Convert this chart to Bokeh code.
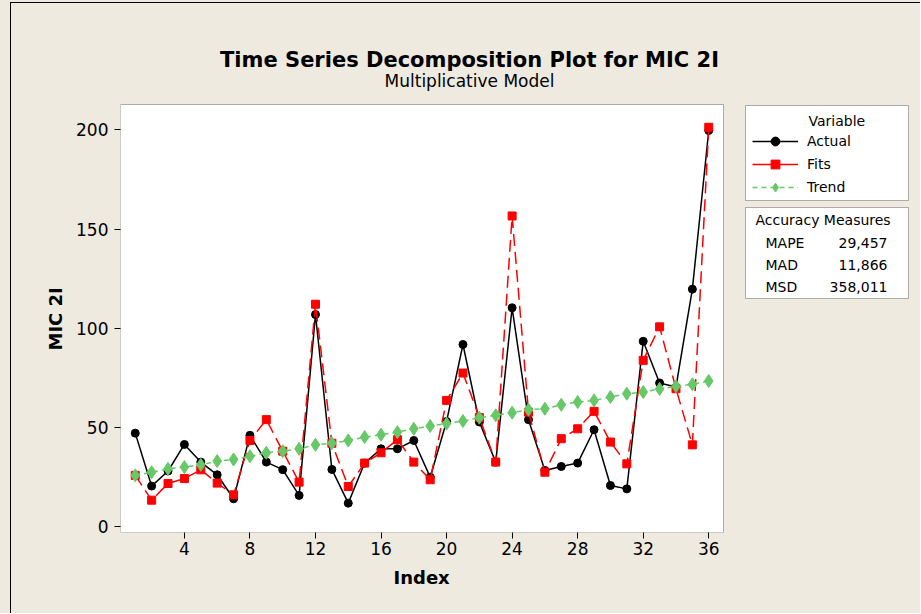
from bokeh.plotting import figure
from bokeh.layouts import column
from bokeh.models import (Range1d, FixedTicker, BoxAnnotation, Label, Legend,
                          LegendItem, ColumnDataSource, Title)
from bokeh.embed import file_html
from bokeh.resources import INLINE

# ---------------- data ----------------
index = list(range(1, 37))
actual = [47.1, 20.4, 28.0, 41.4, 32.5, 26.1, 14.0, 46.0, 32.5, 28.7, 15.7, 106.9,
          28.8, 11.8, 32.0, 39.2, 39.2, 43.4, 24.9, 53.0, 91.8, 52.7, 32.5, 110.3,
          53.9, 28.3, 30.3, 32.0, 48.8, 20.7, 19.0, 93.4, 72.4, 70.4, 119.7, 199.7]
fits = [25.8, 13.3, 21.7, 24.2, 28.6, 21.9, 16.0, 43.4, 53.9, 38.0, 22.4, 112.1,
        42.0, 20.2, 32.0, 37.2, 43.8, 32.5, 23.6, 63.6, 77.4, 55.0, 32.5, 156.6,
        57.7, 27.4, 44.3, 49.3, 58.1, 42.6, 31.6, 83.8, 100.7, 69.5, 41.2, 201.3]
trend = [25.8, 27.4, 29.1, 30.0, 31.1, 33.0, 33.8, 35.4, 37.2, 38.0, 39.2, 41.2,
         42.0, 43.4, 45.1, 46.3, 47.6, 49.3, 50.7, 51.9, 53.2, 54.9, 56.1, 57.4,
         58.9, 59.4, 61.4, 62.8, 63.6, 65.3, 67.0, 67.8, 69.4, 70.7, 71.7, 73.4]
x_ticks = [4, 8, 12, 16, 20, 24, 28, 32, 36]
y_ticks = [0, 50, 100, 150, 200]
series_names = ["Actual", "Fits", "Trend"]
measure_names = ["MAPE", "MAD", "MSD"]
measure_values = ["29,457", "11,866", "358,011"]
title_text = "Time Series Decomposition Plot for MIC 2I"
subtitle_text = "Multiplicative Model"
x_label = "Index"
y_label = "MIC 2I"

# data window of the plot box
X0, X1 = 0.1, 36.9
Y0, Y1 = -3.0, 212.8

# ---------------- geometry (page pixels) ----------------
BG = "#EEEAE0"
FONT = "DejaVu Sans"
GREEN = "#66C866"

PAD_L, PAD_T = 11, 3            # page offset of the canvas (border + padding)
CW, CH = 921 - PAD_L, 614 - PAD_T
BOX_L, BOX_R, BOX_T, BOX_B = 120, 723, 104, 532   # plot box in page px
FL = BOX_L - PAD_L              # frame left in canvas px
FB = BOX_B - PAD_T              # frame bottom in canvas px
frame_w = CW - FL
frame_h = FB
xs = (BOX_R - BOX_L) / (X1 - X0)
ys = (BOX_B - BOX_T) / (Y1 - Y0)

p = figure(width=CW, height=CH, output_backend="svg", toolbar_location=None,
           title=None,
           x_range=Range1d(X0, X0 + frame_w / xs),
           y_range=Range1d(Y0, Y0 + frame_h / ys),
           min_border_left=FL, min_border_right=0,
           min_border_top=0, min_border_bottom=CH - FB,
           background_fill_color=BG, border_fill_color=BG,
           outline_line_color=None)

p.grid.visible = False
for ax in (p.xaxis, p.yaxis):
    ax.minor_tick_line_color = None
    ax.major_tick_in = 0
    ax.major_tick_out = 6
    ax.major_tick_line_color = "black"
    ax.axis_line_color = None
    ax.major_label_text_font = FONT
    ax.major_label_text_font_size = "17px"
    ax.major_label_text_color = "black"

p.xaxis.ticker = FixedTicker(ticks=x_ticks)
p.yaxis.ticker = FixedTicker(ticks=y_ticks)
p.xaxis.major_label_standoff = 3
p.yaxis.major_label_standoff = 6

# axis titles placed as panel titles so they centre on the plot box
p.add_layout(Title(text=x_label, align="left", offset=393 - BOX_L,
                   text_font=FONT, text_font_size="18px",
                   text_font_style="bold", text_color="black", standoff=15),
             "below")
p.add_layout(Title(text=y_label, align="left", offset=BOX_B - 350,
                   text_font=FONT, text_font_size="18px",
                   text_font_style="bold", text_color="black", standoff=16),
             "left")

# white plot box
p.add_layout(BoxAnnotation(left=X0, right=X1, bottom=Y0, top=Y1,
                           fill_color="white", fill_alpha=1,
                           line_color="black", line_width=1, level="underlay"))

src = ColumnDataSource(dict(x=index, actual=actual, fits=fits, trend=trend))

a_line = p.line("x", "actual", source=src, line_color="black", line_width=1.5)
a_pts = p.scatter("x", "actual", source=src, marker="circle", size=8,
                  fill_color="black", line_color="black")

f_line = p.line("x", "fits", source=src, line_color="red", line_width=1.5,
                line_dash="12 6")
f_pts = p.scatter("x", "fits", source=src, marker="square", size=8,
                  fill_color="red", line_color="red")
# solid red line used only for the legend key (lies outside the visible window)
f_leg = p.line(x=[-20, -19], y=[-100, -100], line_color="red", line_width=1.5)

t_line = p.line("x", "trend", source=src, line_color=GREEN, line_width=1.5,
                line_dash="5 4")
t_pts = p.scatter("x", "trend", source=src, marker="diamond", size=13,
                  fill_color=GREEN, line_color=GREEN)


# ---------------- decorations (screen units relative to frame) ----------------
def sx(x):
    return x - BOX_L


def sy(y):
    return BOX_B - y


def box(l, r, t, b):
    p.add_layout(BoxAnnotation(left=sx(l), right=sx(r), top=sy(t), bottom=sy(b),
                               left_units="screen", right_units="screen",
                               top_units="screen", bottom_units="screen",
                               fill_color="white", fill_alpha=1,
                               line_color="black", line_width=1,
                               level="underlay"))


box(745, 908, 105, 200)
box(745, 908, 207, 298)

legend = Legend(items=[
    LegendItem(label=series_names[0], renderers=[a_line, a_pts]),
    LegendItem(label=series_names[1], renderers=[f_leg, f_pts]),
    LegendItem(label=series_names[2], renderers=[t_line, t_pts]),
], location=(sx(745), sy(205)), padding=7, spacing=1, glyph_width=46,
    glyph_height=22, label_height=22, label_standoff=9, margin=0,
    border_line_alpha=0, background_fill_alpha=0,
    label_text_font=FONT, label_text_font_size="14px", label_text_color="black")
p.add_layout(legend, "center")


def lab(text, x, y, size, align="left", bold=False, baseline="middle"):
    p.add_layout(Label(x=sx(x), y=sy(y), x_units="screen", y_units="screen",
                       text=text, text_font=FONT, text_font_size=size,
                       text_align=align, text_baseline=baseline,
                       text_font_style="bold" if bold else "normal",
                       text_color="black"))


lab("Variable", 808, 120, "14px")
lab("Accuracy Measures", 755, 219, "14px")
for i, (nm, val) in enumerate(zip(measure_names, measure_values)):
    yy = 242 + 22 * i
    lab(nm, 765, yy, "14px")
    lab(val, 887, yy, "14px", align="right")

lab(title_text, 469, 59, "21px", align="center", bold=True, baseline="alphabetic")
lab(subtitle_text, 469, 80, "17px", align="center", baseline="alphabetic")

p.styles = {"border-left": "1px solid black", "border-top": "1px solid black"}
page = column(p, styles={"background-color": BG, "padding-left": "10px",
                         "padding-top": "2px"})

open("out.html", "w").write(file_html(page, INLINE))
